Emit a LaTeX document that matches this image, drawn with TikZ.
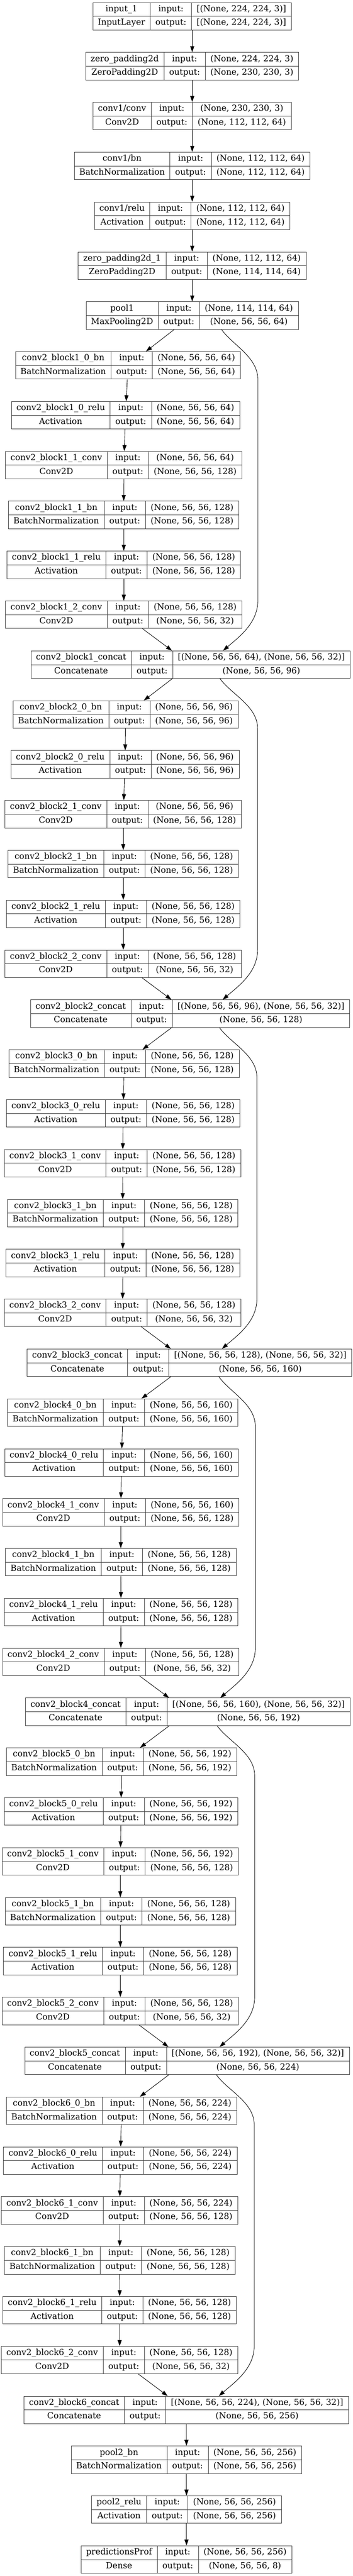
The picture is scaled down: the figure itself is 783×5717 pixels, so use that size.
\documentclass[tikz,border=0pt]{standalone}
\usepackage{fontspec}
\setmainfont{DejaVu Serif}
\usepackage{tikz}
\usetikzlibrary{arrows.meta}

\newcommand\kfont{\fontsize{14pt}{16pt}\selectfont}
\newcommand\shp[1]{(None, 56, 56, #1)}
\newlength\wname \newlength\wio \newlength\wshape \newlength\wtmp

\tikzset{
  layerbox/.style={draw=black!75, line width=0.75pt, minimum height=45.75pt, inner sep=0pt},
  cell/.style={draw=black!75, line width=0.75pt},
  txt/.style={anchor=base, inner sep=0pt, font=\kfont},
  edge/.style={-{Triangle[length=10pt,width=6.7pt]}, line width=0.75pt, black}
}

% #1 node name, #2 x, #3 row, #4 layer name, #5 class, #6 input shape, #7 output shape
\newcommand\netlayer[7]{%
  \pgfinterruptpicture
    \settowidth\wname{\kfont #4}\settowidth\wtmp{\kfont #5}%
    \ifdim\wtmp>\wname \wname=\wtmp\fi
    \settowidth\wshape{\kfont #6}\settowidth\wtmp{\kfont #7}%
    \ifdim\wtmp>\wshape \wshape=\wtmp\fi
    \settowidth\wio{\kfont output:}%
    \global\wname=\wname \global\wshape=\wshape \global\wio=\wio
  \endpgfinterruptpicture
  \global\advance\wname by 17.25pt
  \global\advance\wio by 17.25pt
  \global\advance\wshape by 17.25pt
  \setlength\wtmp{\dimexpr\wname+\wio+\wshape\relax}%
  \pgfmathsetmacro\yc{36.2+110.67*(#3)}%
  \node[layerbox, minimum width=\wtmp] (#1) at (#2,\yc) {};
  \draw[cell] (#1.west) -- (#1.east)
    ([xshift=\wname]#1.north west) -- ([xshift=\wname]#1.south west)
    ([xshift=\wname+\wio]#1.north west) -- ([xshift=\wname+\wio]#1.south west);
  \node[txt] at ([xshift=0.5*\wname, yshift=-15.19pt]#1.north west) {#4};
  \node[txt] at ([xshift=0.5*\wname, yshift=-38.06pt]#1.north west) {#5};
  \node[txt] at ([xshift=\wname+0.5*\wio, yshift=-15.19pt]#1.north west) {input:};
  \node[txt] at ([xshift=\wname+0.5*\wio, yshift=-38.06pt]#1.north west) {output:};
  \node[txt] at ([xshift=\wname+\wio+0.5*\wshape, yshift=-15.19pt]#1.north west) {#6};
  \node[txt] at ([xshift=\wname+\wio+0.5*\wshape, yshift=-38.06pt]#1.north west) {#7};
}

% skip connection round the right side of a block
\newcommand\skiplink[5]{%
  \coordinate (bypass) at (#3,0);
  \draw[edge] ([xshift=48.75pt]#1.south) .. controls +(25,35) and +(0,-50) .. (bypass |- #4.south)
    -- (bypass |- #5.north) .. controls +(0,50) and +(35,-30) .. ([xshift=54pt]#2.north);
}

\begin{document}
\begin{tikzpicture}[x=0.75pt,y=-0.75pt]
\path[fill=white, use as bounding box] (0,0) rectangle (783,5717);

% stem
\netlayer{inp}{426.5}{0}{input\_1}{InputLayer}{[(None, 224, 224, 3)]}{[(None, 224, 224, 3)]}
\netlayer{zpad}{426.5}{1}{zero\_padding2d}{ZeroPadding2D}{(None, 224, 224, 3)}{(None, 230, 230, 3)}
\netlayer{c1conv}{426.5}{2}{conv1/conv}{Conv2D}{(None, 230, 230, 3)}{(None, 112, 112, 64)}
\netlayer{c1bn}{426.5}{3}{conv1/bn}{BatchNormalization}{(None, 112, 112, 64)}{(None, 112, 112, 64)}
\netlayer{c1relu}{426.5}{4}{conv1/relu}{Activation}{(None, 112, 112, 64)}{(None, 112, 112, 64)}
\netlayer{zpad1}{426.5}{5}{zero\_padding2d\_1}{ZeroPadding2D}{(None, 112, 112, 64)}{(None, 114, 114, 64)}
\netlayer{pool1}{426.5}{6}{pool1}{MaxPooling2D}{(None, 114, 114, 64)}{\shp{64}}
\foreach \a/\c in {inp/zpad, zpad/c1conv, c1conv/c1bn, c1bn/c1relu, c1relu/zpad1, zpad1/pool1}
  \draw[edge] (\a) -- (\c);

% dense blocks
\foreach \blk/\cin/\xa/\xb/\xc/\xd/\xe/\xf/\xcat/\xby in {
  1/64/284/278.5/274.7/274.5/274.7/274.7/423/572,
  2/96/278.75/277.5/273.5/273.5/273.5/273.5/422/571.5,
  3/128/275/273.5/272/272.5/272.5/272/420.5/570,
  4/160/272.5/269.5/268/268/268.5/268/416.7/566.5,
  5/192/269.7/268.5/267/267/267/267/415.2/565,
  6/224/269.7/267/265.5/265.7/265.5/265.5/413.5/564}{
  \pgfmathtruncatemacro\rw{7*\blk}
  \pgfmathtruncatemacro\cout{\cin+32}
  \ifnum\blk=1 \def\prev{pool1}\else \pgfmathtruncatemacro\pb{\blk-1}\edef\prev{b\pb cat}\fi
  \netlayer{b\blk bn0}{\xa}{\rw}{conv2\_block\blk\_0\_bn}{BatchNormalization}{\shp{\cin}}{\shp{\cin}}
  \netlayer{b\blk relu0}{\xb}{\rw+1}{conv2\_block\blk\_0\_relu}{Activation}{\shp{\cin}}{\shp{\cin}}
  \netlayer{b\blk conv1}{\xc}{\rw+2}{conv2\_block\blk\_1\_conv}{Conv2D}{\shp{\cin}}{\shp{128}}
  \netlayer{b\blk bn1}{\xd}{\rw+3}{conv2\_block\blk\_1\_bn}{BatchNormalization}{\shp{128}}{\shp{128}}
  \netlayer{b\blk relu1}{\xe}{\rw+4}{conv2\_block\blk\_1\_relu}{Activation}{\shp{128}}{\shp{128}}
  \netlayer{b\blk conv2}{\xf}{\rw+5}{conv2\_block\blk\_2\_conv}{Conv2D}{\shp{128}}{\shp{32}}
  \netlayer{b\blk cat}{\xcat}{\rw+6}{conv2\_block\blk\_concat}{Concatenate}{[\shp{\cin}, \shp{32}]}{\shp{\cout}}
  \draw[edge] (\prev) -- (b\blk bn0);
  \foreach \p/\q in {bn0/relu0, relu0/conv1, conv1/bn1, bn1/relu1, relu1/conv2, conv2/cat}
    \draw[edge] (b\blk\p) -- (b\blk\q);
  \skiplink{\prev}{b\blk cat}{\xby}{b\blk bn0}{b\blk conv2}
}

% head
\netlayer{p2bn}{413.8}{49}{pool2\_bn}{BatchNormalization}{\shp{256}}{\shp{256}}
\netlayer{p2relu}{413.8}{50}{pool2\_relu}{Activation}{\shp{256}}{\shp{256}}
\netlayer{pred}{413.8}{51}{predictionsProf}{Dense}{\shp{256}}{\shp{8}}
\foreach \a/\c in {b6cat/p2bn, p2bn/p2relu, p2relu/pred}
  \draw[edge] (\a) -- (\c);
\end{tikzpicture}
\end{document}
